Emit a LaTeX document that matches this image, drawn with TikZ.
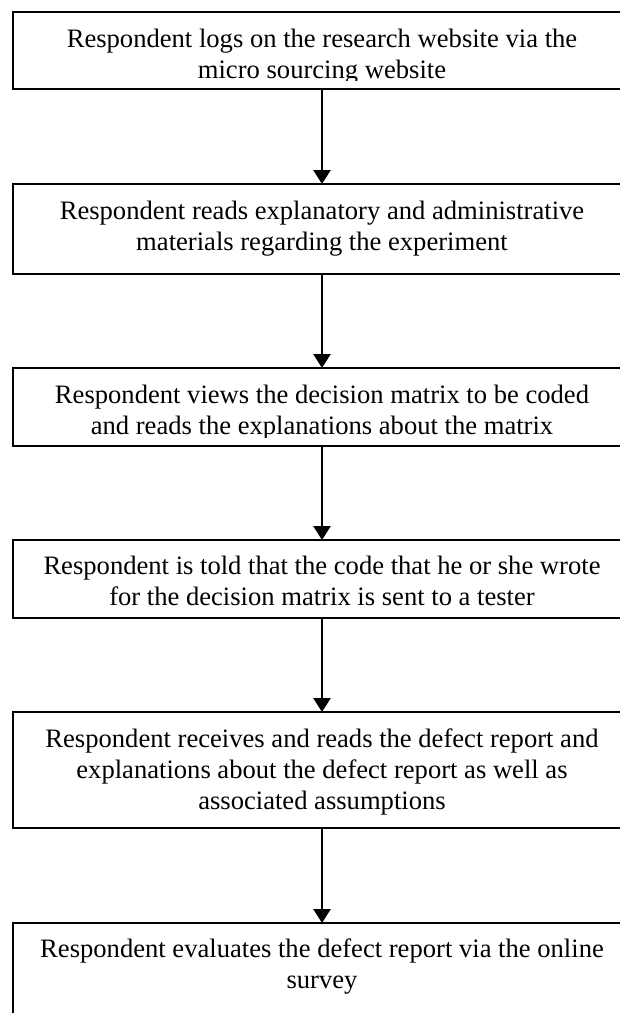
\documentclass[tikz,border=0pt]{standalone}
\usepackage{fontspec}
\setmainfont{Liberation Serif}
\usetikzlibrary{arrows.meta}
\begin{document}
\begin{tikzpicture}[x=0.5pt,y=-0.5pt,
  stepbox/.style={draw, line width=0.8pt, anchor=north west, inner sep=0pt,
    outer sep=0pt, minimum width=309pt},
  steptext/.style={anchor=north, inner sep=0pt, align=center,
    font=\fontsize{13.3}{15.3}\selectfont},
  flow/.style={-{Triangle[width=8.5pt,length=7pt]}, line width=1.3pt}]
\useasboundingbox (0,0) rectangle (620,1013);
\clip (0,0) rectangle (620,1013);

% boxes (text is clipped to the inner area of each box)
\node[stepbox, minimum height=38.5pt] (b1) at (13,12) {};
\begin{scope}
  \clip (b1.north west) rectangle ([yshift=4.5pt]b1.south east);
  \node[steptext] (t1) at ([yshift=-6.8pt]b1.north)
    {\strut Respondent logs on the research website via the\\micro sourcing website};
\end{scope}

\node[stepbox, minimum height=45pt] (b2) at (13,184) {};
\begin{scope}
  \clip (b2.north west) rectangle ([yshift=4.5pt]b2.south east);
  \node[steptext] (t2) at ([yshift=-7pt]b2.north)
    {\strut Respondent reads explanatory and administrative\\materials regarding the experiment};
\end{scope}

\node[stepbox, minimum height=39pt] (b3) at (13,368) {};
\begin{scope}
  \clip (b3.north west) rectangle ([yshift=4.5pt]b3.south east);
  \node[steptext] (t3) at ([yshift=-6.8pt]b3.north)
    {\strut Respondent views the decision matrix to be coded\\and reads the explanations about the matrix};
\end{scope}

\node[stepbox, minimum height=39pt] (b4) at (13,540) {};
\begin{scope}
  \clip (b4.north west) rectangle ([yshift=4.5pt]b4.south east);
  \node[steptext] (t4) at ([yshift=-6.3pt]b4.north)
    {\strut Respondent is told that the code that he or she wrote\\for the decision matrix is sent to a tester};
\end{scope}

\node[stepbox, minimum height=58pt] (b5) at (13,712) {};
\begin{scope}
  \clip (b5.north west) rectangle ([yshift=4.5pt]b5.south east);
  \node[steptext] (t5) at ([yshift=-7pt]b5.north)
    {\strut Respondent receives and reads the defect report and\\explanations about the defect report as well as\\associated assumptions};
\end{scope}

\node[stepbox, minimum height=50pt] (b6) at (13,923) {};
\begin{scope}
  \clip (b6.north west) rectangle ([yshift=4.5pt]b6.south east);
  \node[steptext] (t6) at ([yshift=-6.5pt]b6.north)
    {\strut Respondent evaluates the defect report via the online\\survey};
\end{scope}

% connectors
\draw[flow] (b1.south) -- (b2.north);
\draw[flow] (b2.south) -- (b3.north);
\draw[flow] (b3.south) -- (b4.north);
\draw[flow] (b4.south) -- (b5.north);
\draw[flow] (b5.south) -- (b6.north);
\end{tikzpicture}
\end{document}
